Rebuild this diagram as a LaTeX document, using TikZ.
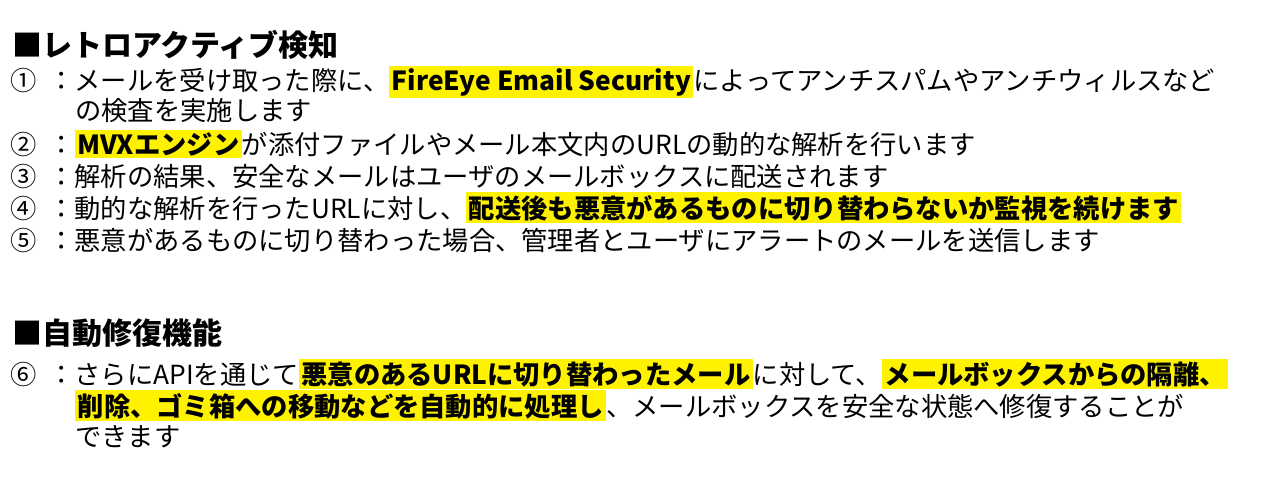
\documentclass[tikz,border=0pt]{standalone}
\usepackage{fontspec}
\setmainfont{Noto Sans CJK JP}
\newcommand\hlt[1]{{\setlength\fboxsep{2.5pt}\colorbox{yellow}{\bfseries #1}}}
\begin{document}
\begin{tikzpicture}[x=1pt,y=-1pt,
  tx/.style={anchor=base west,inner sep=0pt,font=\fontsize{26.3}{26}\selectfont},
  hd/.style={anchor=base west,inner sep=0pt,font=\fontsize{30}{30}\selectfont\bfseries}]
\useasboundingbox (0,0) rectangle (1265,488);
\node[hd] (h1) at (12,56) {■レトロアクティブ検知};
\node[tx] (n1) at (10,90) {①};
\node[tx] (t1) at (48,90) {：メールを受け取った際に、\hlt{FireEye Email Security}によってアンチスパムやアンチウィルスなど};
\node[tx] (t1b) at (75,120) {の検査を実施します};
\node[tx] (n2) at (10,154) {②};
\node[tx] (t2) at (48,154) {：\hlt{MVXエンジン}が添付ファイルやメール本文内のURLの動的な解析を行います};
\node[tx] (n3) at (10,186) {③};
\node[tx] (t3) at (48,186) {：解析の結果、安全なメールはユーザのメールボックスに配送されます};
\node[tx] (n4) at (10,218) {④};
\node[tx] (t4) at (48,218) {：動的な解析を行ったURLに対し、\hlt{配送後も悪意があるものに切り替わらないか監視を続けます}};
\node[tx] (n5) at (10,250) {⑤};
\node[tx] (t5) at (48,250) {：悪意があるものに切り替わった場合、管理者とユーザにアラートのメールを送信します};
\node[hd] (h2) at (12,344) {■自動修復機能};
\node[tx] (n6) at (10,384) {⑥};
\node[tx] (t6) at (48,384) {：さらにAPIを通じて\hlt{悪意のあるURLに切り替わったメール}に対して、\hlt{メールボックスからの隔離、}};
\node[tx] (t6b) at (75,416) {\hlt{削除、ゴミ箱への移動などを自動的に処理し}、メールボックスを安全な状態へ修復することが};
\node[tx] (t6c) at (75,446) {できます};
\end{tikzpicture}
\end{document}
